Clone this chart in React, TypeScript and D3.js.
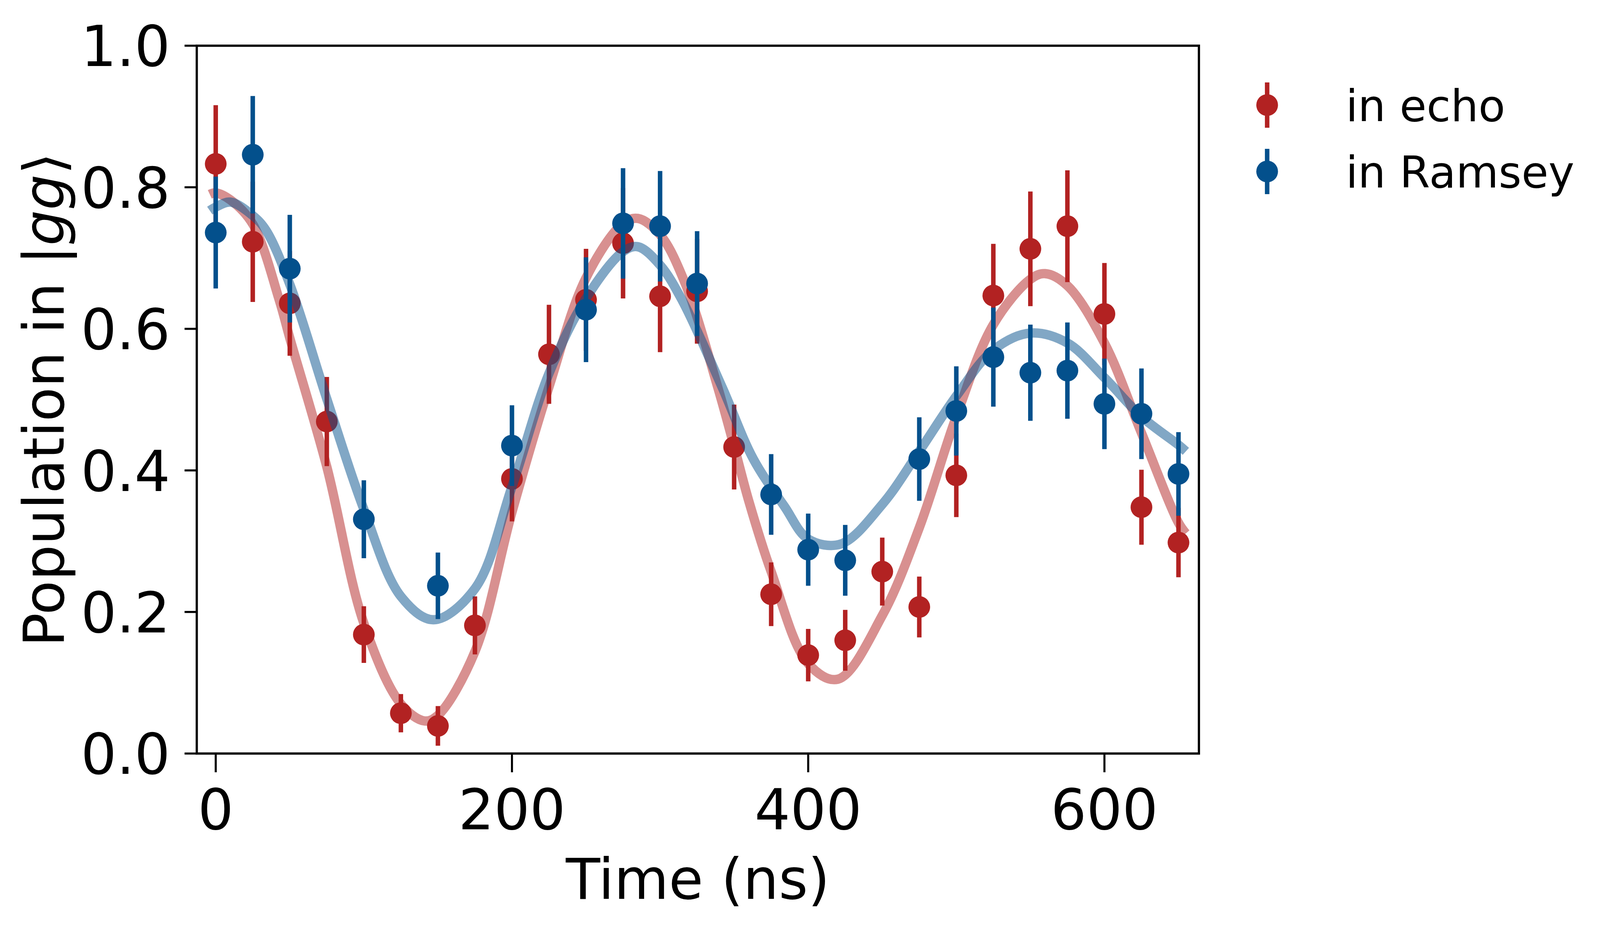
import {useEffect, useRef} from "react";
import * as d3 from "d3";

const echoTimes = [0, 25, 50, 75, 100, 125, 150, 175, 200, 225, 250, 275, 300, 325, 350, 375, 400, 425, 450, 475, 500, 525, 550, 575, 600, 625, 650];
const echoValues = [0.833, 0.723, 0.636, 0.469, 0.168, 0.057, 0.039, 0.181, 0.388, 0.564, 0.641, 0.721, 0.646, 0.653, 0.433, 0.225, 0.139, 0.160, 0.257, 0.207, 0.393, 0.647, 0.713, 0.745, 0.621, 0.348, 0.298];
const echoErrors = [0.083, 0.085, 0.074, 0.063, 0.040, 0.027, 0.028, 0.041, 0.060, 0.070, 0.072, 0.078, 0.079, 0.074, 0.060, 0.045, 0.037, 0.043, 0.048, 0.043, 0.059, 0.073, 0.081, 0.079, 0.072, 0.053, 0.049];

const ramseyTimes = [0, 25, 50, 100, 150, 200, 250, 275, 300, 325, 375, 400, 425, 475, 500, 525, 550, 575, 600, 625, 650];
const ramseyValues = [0.736, 0.846, 0.685, 0.331, 0.237, 0.435, 0.627, 0.749, 0.745, 0.664, 0.366, 0.288, 0.273, 0.416, 0.484, 0.560, 0.538, 0.541, 0.494, 0.480, 0.395];
const ramseyErrors = [0.079, 0.083, 0.076, 0.055, 0.047, 0.057, 0.074, 0.078, 0.078, 0.074, 0.057, 0.051, 0.050, 0.059, 0.063, 0.070, 0.068, 0.068, 0.064, 0.064, 0.059];

// fit curves, sampled from the figure
const echoFitTimes = [-4, 0, 10, 25, 43, 50, 75, 100, 125, 141, 150, 175, 200, 225, 250, 275, 285, 300, 317, 339, 350, 360, 375, 400, 420, 450, 475, 500, 525, 550, 560, 575, 600, 625, 650, 655];
const echoFitValues = [0.790, 0.792, 0.782, 0.748, 0.640, 0.587, 0.405, 0.184, 0.070, 0.046, 0.054, 0.144, 0.341, 0.518, 0.672, 0.749, 0.756, 0.733, 0.664, 0.517, 0.434, 0.356, 0.257, 0.127, 0.105, 0.195, 0.319, 0.476, 0.606, 0.670, 0.678, 0.661, 0.580, 0.453, 0.326, 0.311];
const ramseyFitTimes = [-4, 0, 10, 25, 34, 50, 75, 100, 125, 147, 175, 200, 225, 250, 275, 285, 300, 315, 342, 363, 384, 400, 422, 450, 475, 500, 525, 550, 575, 600, 625, 650, 655];
const ramseyFitValues = [0.767, 0.772, 0.779, 0.760, 0.739, 0.663, 0.501, 0.345, 0.222, 0.189, 0.233, 0.377, 0.537, 0.643, 0.709, 0.716, 0.690, 0.640, 0.517, 0.416, 0.349, 0.303, 0.296, 0.352, 0.427, 0.505, 0.570, 0.594, 0.580, 0.531, 0.476, 0.436, 0.427];

const xTicks = [0, 200, 400, 600];
const yTicks = [0, 0.2, 0.4, 0.6, 0.8, 1.0];

const RED = "#b22222";
const BLUE = "#03508c";
const FONT = "DejaVu Sans";

export default function App() {
  const svgRef = useRef<SVGSVGElement | null>(null);

  useEffect(() => {
    // layout is measured on a 4456x2391 canvas; stretch it to the real viewport
    const baseW = 4456;
    const baseH = 2391;
    const width = window.innerWidth || baseW;
    const height = window.innerHeight || baseH;
    const sx = width / baseW;
    const sy = height / baseH;
    const k = Math.sqrt(sx * sy);
    const px = (v: number) => v * sx;
    const py = (v: number) => v * sy;

    const plot = {left: px(548), right: px(3339), top: py(117), bottom: py(1929)};

    const svg = d3.select(svgRef.current)
        .attr("width", width)
        .attr("height", height);
    svg.selectAll("*").remove();

    const x = d3.scaleLinear().domain([-12.8, 663.8]).range([plot.left, plot.right]);
    const y = d3.scaleLinear().domain([0, 1]).range([plot.bottom, plot.top]);

    const fitLine = d3.line<[number, number]>()
        .x(d => x(d[0]))
        .y(d => y(d[1]))
        .curve(d3.curveCatmullRom.alpha(0.5));

    const g = svg.append("g");

    function drawFit(ts: number[], vs: number[], color: string) {
      g.append("path")
          .datum(ts.map((t, i) => [t, vs[i]] as [number, number]))
          .attr("d", fitLine)
          .attr("fill", "none")
          .attr("stroke", color)
          .attr("stroke-opacity", 0.5)
          .attr("stroke-width", 25 * k);
    }

    function drawPoints(ts: number[], vs: number[], es: number[], color: string) {
      const pts = ts.map((t, i) => ({t, v: vs[i], e: es[i]}));
      g.selectAll(null)
          .data(pts)
          .enter().append("line")
          .attr("x1", d => x(d.t))
          .attr("x2", d => x(d.t))
          .attr("y1", d => y(d.v - d.e))
          .attr("y2", d => y(d.v + d.e))
          .attr("stroke", color)
          .attr("stroke-width", 12 * k);
      g.selectAll(null)
          .data(pts)
          .enter().append("circle")
          .attr("cx", d => x(d.t))
          .attr("cy", d => y(d.v))
          .attr("r", 29 * k)
          .attr("fill", color);
    }

    drawFit(echoFitTimes, echoFitValues, RED);
    drawPoints(echoTimes, echoValues, echoErrors, RED);
    drawFit(ramseyFitTimes, ramseyFitValues, BLUE);
    drawPoints(ramseyTimes, ramseyValues, ramseyErrors, BLUE);

    // frame
    svg.append("rect")
        .attr("x", plot.left)
        .attr("y", plot.top)
        .attr("width", plot.right - plot.left)
        .attr("height", plot.bottom - plot.top)
        .attr("fill", "none")
        .attr("stroke", "black")
        .attr("stroke-width", 6 * k);

    // x axis
    const xAxis = svg.append("g");
    xAxis.selectAll(null)
        .data(xTicks)
        .enter().append("line")
        .attr("x1", d => x(d)).attr("x2", d => x(d))
        .attr("y1", plot.bottom).attr("y2", plot.bottom + py(48))
        .attr("stroke", "black").attr("stroke-width", 5.5 * k);
    xAxis.selectAll(null)
        .data(xTicks)
        .enter().append("text")
        .attr("x", d => x(d))
        .attr("y", py(2123))
        .attr("text-anchor", "middle")
        .attr("font-family", FONT)
        .attr("font-size", 150 * k)
        .text(d => d3.format("d")(d));

    // y axis
    const yAxis = svg.append("g");
    yAxis.selectAll(null)
        .data(yTicks)
        .enter().append("line")
        .attr("x1", plot.left - px(34)).attr("x2", plot.left)
        .attr("y1", d => y(d)).attr("y2", d => y(d))
        .attr("stroke", "black").attr("stroke-width", 5.5 * k);
    yAxis.selectAll(null)
        .data(yTicks)
        .enter().append("text")
        .attr("x", px(474))
        .attr("y", d => y(d))
        .attr("dy", "0.365em")
        .attr("text-anchor", "end")
        .attr("font-family", FONT)
        .attr("font-size", 150 * k)
        .text(d => d3.format(".1f")(d));

    svg.append("text")
        .attr("x", (plot.left + plot.right) / 2)
        .attr("y", py(2301))
        .attr("text-anchor", "middle")
        .attr("font-family", FONT)
        .attr("font-size", 150 * k)
        .text("Time (ns)");

    const yLabel = svg.append("text")
        .attr("transform", `translate(${px(177)},${(plot.top + plot.bottom) / 2}) rotate(-90)`)
        .attr("text-anchor", "middle")
        .attr("font-family", FONT)
        .attr("font-size", 150 * k);
    yLabel.append("tspan").text("Population in |");
    yLabel.append("tspan").attr("font-style", "italic").text("gg");
    yLabel.append("tspan").text("\u27e9");

    // legend
    const legendItems = [
      {label: "in echo", color: RED, cy: 269},
      {label: "in Ramsey", color: BLUE, cy: 439},
    ];
    const item = svg.append("g").selectAll(null)
        .data(legendItems)
        .enter().append("g");
    item.append("line")
        .attr("x1", px(3529)).attr("x2", px(3529))
        .attr("y1", d => py(d.cy - 58)).attr("y2", d => py(d.cy + 58))
        .attr("stroke", d => d.color)
        .attr("stroke-width", 12 * k);
    item.append("circle")
        .attr("cx", px(3529))
        .attr("cy", d => py(d.cy))
        .attr("r", 29 * k)
        .attr("fill", d => d.color);
    item.append("text")
        .attr("x", px(3748))
        .attr("y", d => py(d.cy + 41))
        .attr("font-family", FONT)
        .attr("font-size", 117 * k)
        .text(d => d.label);
  }, []);

  return (
    <>
      <style>{`html,body{margin:0;padding:0;overflow:hidden;background:white}`}</style>
      <svg ref={svgRef} style={{display: "block"}} />
    </>
  );
}
